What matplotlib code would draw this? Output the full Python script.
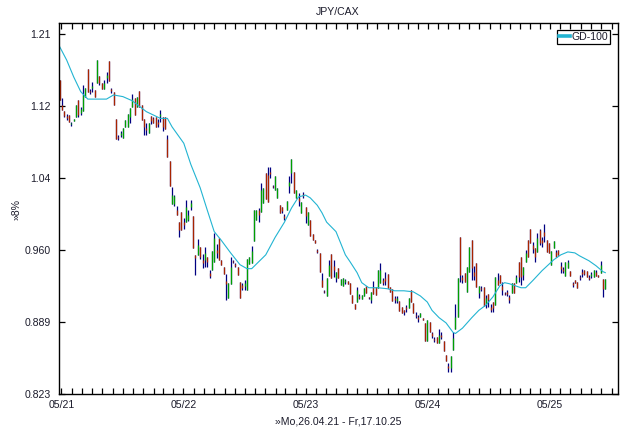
"""JPY/CAX weekly candles with the GD-100 moving average (log scale, 8% grid)."""

import matplotlib

matplotlib.use("Agg")
import matplotlib.dates as mdates
import matplotlib.pyplot as plt
import matplotlib.ticker as mticker
import pandas as pd

plt.rcParams["font.family"] = ["Liberation Sans", "DejaVu Sans"]
plt.rcParams["font.size"] = 7.6

TEXT = "#1c1c2c"
NAVY = "#000080"
UP = "#00a000"
DOWN = "#a82400"
MA_COLOR = "#22b4d2"
BAR_LW = 0.9  # ~1.25 px at 100 dpi

# --- data: one candle per week, first week starting Mo 26.04.21
first_week = "2021-04-26"

open_ = [
    1.151, 1.121, 1.114, 1.108, 1.109, 1.098, 1.102, 1.107, 1.127, 1.111,
    1.114, 1.131, 1.165, 1.138, 1.141, 1.139, 1.148, 1.156, 1.148, 1.140,
    1.154, 1.175, 1.140, 1.137, 1.104, 1.083, 1.086, 1.082, 1.095, 1.095,
    1.107, 1.119, 1.129, 1.119, 1.138, 1.121, 1.104, 1.094, 1.088, 1.108,
    1.105, 1.107, 1.101, 1.108, 1.107, 1.107, 1.081, 1.056, 1.008, 1.008,
    1.002, 0.989, 1.000, 0.989, 0.989, 0.991, 1.005, 0.995, 0.955, 0.955,
    0.963, 0.950, 0.950, 0.953, 0.937, 0.940, 0.948, 0.960, 0.972, 0.950,
    0.943, 0.929, 0.912, 0.926, 0.949, 0.946, 0.943, 0.928, 0.925, 0.924,
    0.920, 0.946, 0.947, 0.969, 0.991, 1.002, 1.000, 1.009, 1.042, 1.040,
    1.043, 1.028, 1.024, 1.015, 1.007, 1.005, 0.996, 1.002, 1.028, 1.042,
    1.043, 1.015, 1.015, 0.999, 1.019, 1.005, 0.986, 0.991, 0.977, 0.970,
    0.960, 0.957, 0.930, 0.919, 0.914, 0.934, 0.956, 0.944, 0.932, 0.942,
    0.925, 0.924, 0.928, 0.929, 0.927, 0.915, 0.906, 0.908, 0.914, 0.911,
    0.914, 0.924, 0.913, 0.910, 0.923, 0.923, 0.922, 0.927, 0.930, 0.932,
    0.936, 0.923, 0.921, 0.912, 0.909, 0.909, 0.903, 0.900, 0.903, 0.902,
    0.920, 0.907, 0.896, 0.894, 0.894, 0.893, 0.888, 0.871, 0.889, 0.878,
    0.873, 0.875, 0.869, 0.877, 0.871, 0.858, 0.848, 0.846, 0.863, 0.882,
    0.894, 0.973, 0.933, 0.937, 0.918, 0.938, 0.970, 0.938, 0.947, 0.917,
    0.922, 0.923, 0.906, 0.916, 0.903, 0.908, 0.905, 0.930, 0.935, 0.924,
    0.917, 0.918, 0.913, 0.917, 0.927, 0.927, 0.948, 0.953, 0.935, 0.948,
    0.970, 0.982, 0.965, 0.962, 0.958, 0.981, 0.970, 0.979, 0.970, 0.967,
    0.945, 0.962, 0.958, 0.960, 0.944, 0.941, 0.934, 0.942, 0.939, 0.927,
    0.930, 0.928, 0.933, 0.938, 0.940, 0.939, 0.933, 0.934, 0.933, 0.938,
    0.935, 0.937, 0.931, 0.921,
]
high = [
    1.151, 1.129, 1.114, 1.110, 1.109, 1.101, 1.104, 1.121, 1.127, 1.119,
    1.145, 1.141, 1.165, 1.140, 1.149, 1.139, 1.176, 1.156, 1.148, 1.151,
    1.161, 1.175, 1.141, 1.137, 1.104, 1.086, 1.090, 1.094, 1.103, 1.110,
    1.117, 1.134, 1.129, 1.131, 1.138, 1.121, 1.104, 1.100, 1.100, 1.108,
    1.107, 1.107, 1.104, 1.115, 1.107, 1.107, 1.086, 1.056, 1.027, 1.018,
    1.006, 0.989, 1.000, 0.993, 1.013, 1.002, 1.013, 0.995, 0.955, 0.971,
    0.963, 0.956, 0.963, 0.953, 0.940, 0.959, 0.978, 0.966, 0.972, 0.950,
    0.943, 0.936, 0.927, 0.953, 0.950, 0.947, 0.943, 0.928, 0.927, 0.930,
    0.951, 0.953, 0.964, 1.002, 1.002, 1.004, 1.031, 1.026, 1.042, 1.049,
    1.049, 1.029, 1.039, 1.026, 1.007, 1.005, 0.998, 1.012, 1.039, 1.058,
    1.043, 1.024, 1.020, 1.011, 1.021, 1.005, 1.000, 0.991, 0.977, 0.970,
    0.961, 0.957, 0.937, 0.920, 0.932, 0.950, 0.956, 0.950, 0.938, 0.942,
    0.931, 0.932, 0.931, 0.929, 0.927, 0.915, 0.906, 0.923, 0.916, 0.915,
    0.922, 0.924, 0.913, 0.918, 0.929, 0.923, 0.940, 0.947, 0.932, 0.938,
    0.936, 0.923, 0.921, 0.914, 0.914, 0.909, 0.903, 0.900, 0.905, 0.912,
    0.920, 0.907, 0.898, 0.896, 0.897, 0.893, 0.888, 0.891, 0.889, 0.879,
    0.875, 0.875, 0.882, 0.879, 0.871, 0.858, 0.851, 0.857, 0.879, 0.906,
    0.932, 0.973, 0.935, 0.937, 0.943, 0.963, 0.970, 0.944, 0.947, 0.924,
    0.924, 0.923, 0.915, 0.916, 0.906, 0.908, 0.933, 0.937, 0.935, 0.928,
    0.918, 0.920, 0.915, 0.927, 0.927, 0.935, 0.948, 0.953, 0.943, 0.960,
    0.970, 0.982, 0.968, 0.962, 0.978, 0.982, 0.973, 0.987, 0.970, 0.967,
    0.959, 0.969, 0.960, 0.960, 0.948, 0.943, 0.948, 0.950, 0.939, 0.928,
    0.930, 0.928, 0.935, 0.941, 0.940, 0.939, 0.935, 0.938, 0.940, 0.940,
    0.935, 0.949, 0.931, 0.931,
]
low = [
    1.127, 1.115, 1.107, 1.103, 1.101, 1.096, 1.102, 1.107, 1.107, 1.109,
    1.114, 1.131, 1.137, 1.134, 1.137, 1.131, 1.148, 1.145, 1.140, 1.140,
    1.148, 1.150, 1.135, 1.121, 1.081, 1.080, 1.083, 1.082, 1.095, 1.095,
    1.100, 1.119, 1.109, 1.119, 1.119, 1.103, 1.086, 1.086, 1.088, 1.098,
    1.100, 1.095, 1.095, 1.101, 1.090, 1.093, 1.060, 1.028, 1.008, 1.006,
    0.997, 0.973, 0.981, 0.982, 0.989, 0.990, 1.002, 0.962, 0.935, 0.955,
    0.951, 0.942, 0.943, 0.943, 0.932, 0.940, 0.948, 0.952, 0.950, 0.945,
    0.936, 0.910, 0.912, 0.926, 0.947, 0.943, 0.935, 0.912, 0.920, 0.920,
    0.920, 0.946, 0.947, 0.969, 0.991, 0.989, 1.000, 1.009, 1.014, 1.011,
    1.037, 1.026, 1.024, 1.015, 0.999, 0.999, 0.991, 1.002, 1.020, 1.031,
    1.020, 1.015, 1.006, 0.999, 1.015, 0.988, 0.986, 0.974, 0.970, 0.967,
    0.957, 0.938, 0.923, 0.917, 0.914, 0.934, 0.932, 0.933, 0.928, 0.932,
    0.925, 0.924, 0.926, 0.926, 0.916, 0.907, 0.901, 0.908, 0.911, 0.911,
    0.914, 0.917, 0.911, 0.907, 0.916, 0.915, 0.922, 0.927, 0.925, 0.925,
    0.922, 0.918, 0.909, 0.907, 0.907, 0.899, 0.897, 0.896, 0.898, 0.902,
    0.908, 0.897, 0.893, 0.889, 0.894, 0.891, 0.871, 0.871, 0.879, 0.874,
    0.870, 0.869, 0.869, 0.873, 0.862, 0.853, 0.843, 0.843, 0.863, 0.882,
    0.894, 0.928, 0.927, 0.928, 0.918, 0.938, 0.930, 0.930, 0.923, 0.912,
    0.919, 0.904, 0.902, 0.903, 0.898, 0.898, 0.905, 0.925, 0.927, 0.915,
    0.915, 0.914, 0.907, 0.917, 0.917, 0.927, 0.928, 0.925, 0.930, 0.948,
    0.953, 0.967, 0.957, 0.948, 0.958, 0.965, 0.963, 0.968, 0.958, 0.957,
    0.945, 0.962, 0.953, 0.955, 0.937, 0.937, 0.934, 0.942, 0.934, 0.923,
    0.927, 0.922, 0.930, 0.933, 0.935, 0.933, 0.930, 0.932, 0.933, 0.934,
    0.933, 0.937, 0.913, 0.921,
]
close = [
    1.127, 1.115, 1.108, 1.105, 1.101, 1.100, 1.104, 1.121, 1.109, 1.116,
    1.133, 1.141, 1.137, 1.137, 1.144, 1.131, 1.176, 1.148, 1.140, 1.148,
    1.157, 1.150, 1.138, 1.121, 1.081, 1.082, 1.088, 1.094, 1.103, 1.110,
    1.117, 1.128, 1.109, 1.131, 1.119, 1.103, 1.095, 1.091, 1.100, 1.102,
    1.100, 1.095, 1.098, 1.110, 1.095, 1.093, 1.060, 1.028, 1.018, 1.017,
    0.997, 0.981, 0.981, 0.986, 1.005, 0.997, 1.009, 0.962, 0.952, 0.965,
    0.953, 0.947, 0.957, 0.948, 0.934, 0.959, 0.972, 0.957, 0.950, 0.945,
    0.936, 0.926, 0.927, 0.943, 0.948, 0.944, 0.935, 0.912, 0.922, 0.927,
    0.951, 0.953, 0.959, 1.002, 1.002, 0.997, 1.024, 1.026, 1.014, 1.011,
    1.041, 1.027, 1.039, 1.026, 0.999, 1.001, 0.993, 1.012, 1.032, 1.058,
    1.020, 1.024, 1.012, 1.011, 1.017, 0.995, 1.000, 0.974, 0.970, 0.967,
    0.958, 0.938, 0.923, 0.918, 0.932, 0.945, 0.932, 0.940, 0.938, 0.932,
    0.931, 0.932, 0.930, 0.926, 0.916, 0.907, 0.901, 0.920, 0.912, 0.915,
    0.922, 0.917, 0.912, 0.918, 0.916, 0.915, 0.940, 0.940, 0.927, 0.929,
    0.922, 0.918, 0.909, 0.910, 0.912, 0.899, 0.897, 0.898, 0.901, 0.912,
    0.908, 0.897, 0.895, 0.892, 0.897, 0.891, 0.871, 0.891, 0.879, 0.876,
    0.872, 0.869, 0.877, 0.875, 0.862, 0.853, 0.846, 0.857, 0.874, 0.894,
    0.932, 0.935, 0.930, 0.928, 0.943, 0.963, 0.942, 0.934, 0.923, 0.924,
    0.921, 0.904, 0.912, 0.910, 0.900, 0.902, 0.933, 0.925, 0.927, 0.920,
    0.916, 0.916, 0.910, 0.927, 0.917, 0.933, 0.933, 0.933, 0.943, 0.957,
    0.953, 0.967, 0.961, 0.953, 0.972, 0.967, 0.967, 0.974, 0.958, 0.957,
    0.959, 0.969, 0.953, 0.955, 0.941, 0.939, 0.948, 0.948, 0.934, 0.925,
    0.927, 0.922, 0.932, 0.936, 0.936, 0.933, 0.931, 0.936, 0.940, 0.934,
    0.933, 0.945, 0.921, 0.931,
]

# GD-100 read at selected weeks (week number counted from the first candle)
ma_week = [
    0, 3, 6, 9, 12, 20, 23, 27, 31, 37, 43, 46, 48, 53, 56, 60, 63, 66, 69, 73,
    77, 80, 82, 88, 92, 96, 99, 102, 105, 107, 110, 112, 114, 118, 120, 122,
    124, 127, 129, 132, 136, 140, 143, 147, 151, 154, 157, 159, 162, 165, 168,
    169, 172, 176, 179, 182, 185, 188, 190, 192, 197, 199, 202, 206, 211, 214,
    217, 220, 222, 226, 229, 232, 233,
]
ma_value = [
    1.193, 1.176, 1.155, 1.137, 1.128, 1.128, 1.133, 1.131, 1.126, 1.113,
    1.105, 1.105, 1.095, 1.076, 1.052, 1.026, 1.002, 0.979, 0.970, 0.957,
    0.945, 0.941, 0.941, 0.955, 0.973, 0.989, 1.004, 1.016, 1.018, 1.015,
    1.007, 0.999, 0.989, 0.979, 0.967, 0.955, 0.948, 0.937, 0.927, 0.922,
    0.922, 0.921, 0.919, 0.919, 0.918, 0.914, 0.908, 0.900, 0.893, 0.888,
    0.879, 0.878, 0.883, 0.893, 0.900, 0.905, 0.913, 0.924, 0.927, 0.926,
    0.922, 0.922, 0.929, 0.939, 0.950, 0.955, 0.958, 0.957, 0.954, 0.949,
    0.944, 0.938, 0.937,
]

# 8% grid on a log axis
ytick_values = [0.823, 0.889, 0.960, 1.037, 1.120, 1.209]
ytick_labels = ["0.823", "0.889", "0.960", "1.04", "1.12", "1.21"]

title = "JPY/CAX"
ylabel = "»8%"
xlabel = "»Mo,26.04.21 - Fr,17.10.25"
legend_label = "GD-100"


def main() -> None:
    df = pd.DataFrame({"open": open_, "high": high, "low": low, "close": close})
    df.index = pd.date_range(first_week, periods=len(df), freq="7D")

    fig = plt.figure(figsize=(6.3, 4.3), dpi=100)
    ax = fig.add_axes([59 / 630, 1 - 394 / 430, 559 / 630, 371 / 430])

    # wicks, then coloured bodies on top
    ax.vlines(df.index, df["low"], df["high"], colors=NAVY, linewidth=BAR_LW)
    body = df[df["open"] != df["close"]]
    body_colors = [UP if c > o else DOWN for o, c in zip(body["open"], body["close"])]
    ax.vlines(body.index, body["open"], body["close"], colors=body_colors,
              linewidth=BAR_LW)

    ma_dates = df.index[ma_week]
    (ma_line,) = ax.plot(ma_dates, ma_value, color=MA_COLOR, linewidth=0.8)

    ax.set_yscale("log")
    ax.set_ylim(0.823, 1.2236)
    ax.yaxis.set_major_locator(mticker.FixedLocator(ytick_values))
    ax.yaxis.set_major_formatter(mticker.FixedFormatter(ytick_labels))
    ax.yaxis.set_minor_locator(mticker.NullLocator())

    ax.set_xlim(pd.Timestamp("2021-04-24"), pd.Timestamp("2025-11-20"))
    ax.xaxis.set_major_locator(mdates.MonthLocator(bymonth=5, bymonthday=1))
    ax.xaxis.set_major_formatter(mdates.DateFormatter("%m/%y"))
    ax.xaxis.set_minor_locator(mdates.MonthLocator())

    ax.tick_params(which="both", direction="in", top=True, right=True,
                   length=4.3, width=0.9, colors="black", labelcolor=TEXT)
    ax.tick_params(axis="y", pad=6)
    ax.tick_params(axis="x", pad=4)
    for s in ax.spines.values():
        s.set_linewidth(1.0)
        s.set_color("black")

    leg = ax.legend([ma_line], [legend_label], loc="upper right",
                    bbox_to_anchor=(0.9857, 0.9811), borderaxespad=0,
                    fancybox=False, framealpha=1, edgecolor="black",
                    handlelength=1.0, handletextpad=0.15, borderpad=0.2,
                    labelcolor=TEXT)
    leg.get_frame().set_linewidth(0.9)
    leg.get_lines()[0].set_linewidth(2.6)

    fig.text(338 / 630, 1 - 12 / 430, title, ha="center", va="center", color=TEXT)
    fig.text(338 / 630, 1 - 422 / 430, xlabel, ha="center", va="center", color=TEXT)
    fig.text(17 / 630, 1 - 210 / 430, ylabel, ha="center", va="center",
             rotation=90, color=TEXT)

    fig.savefig("out.png", dpi=100)
    plt.close(fig)


if __name__ == "__main__":
    main()
